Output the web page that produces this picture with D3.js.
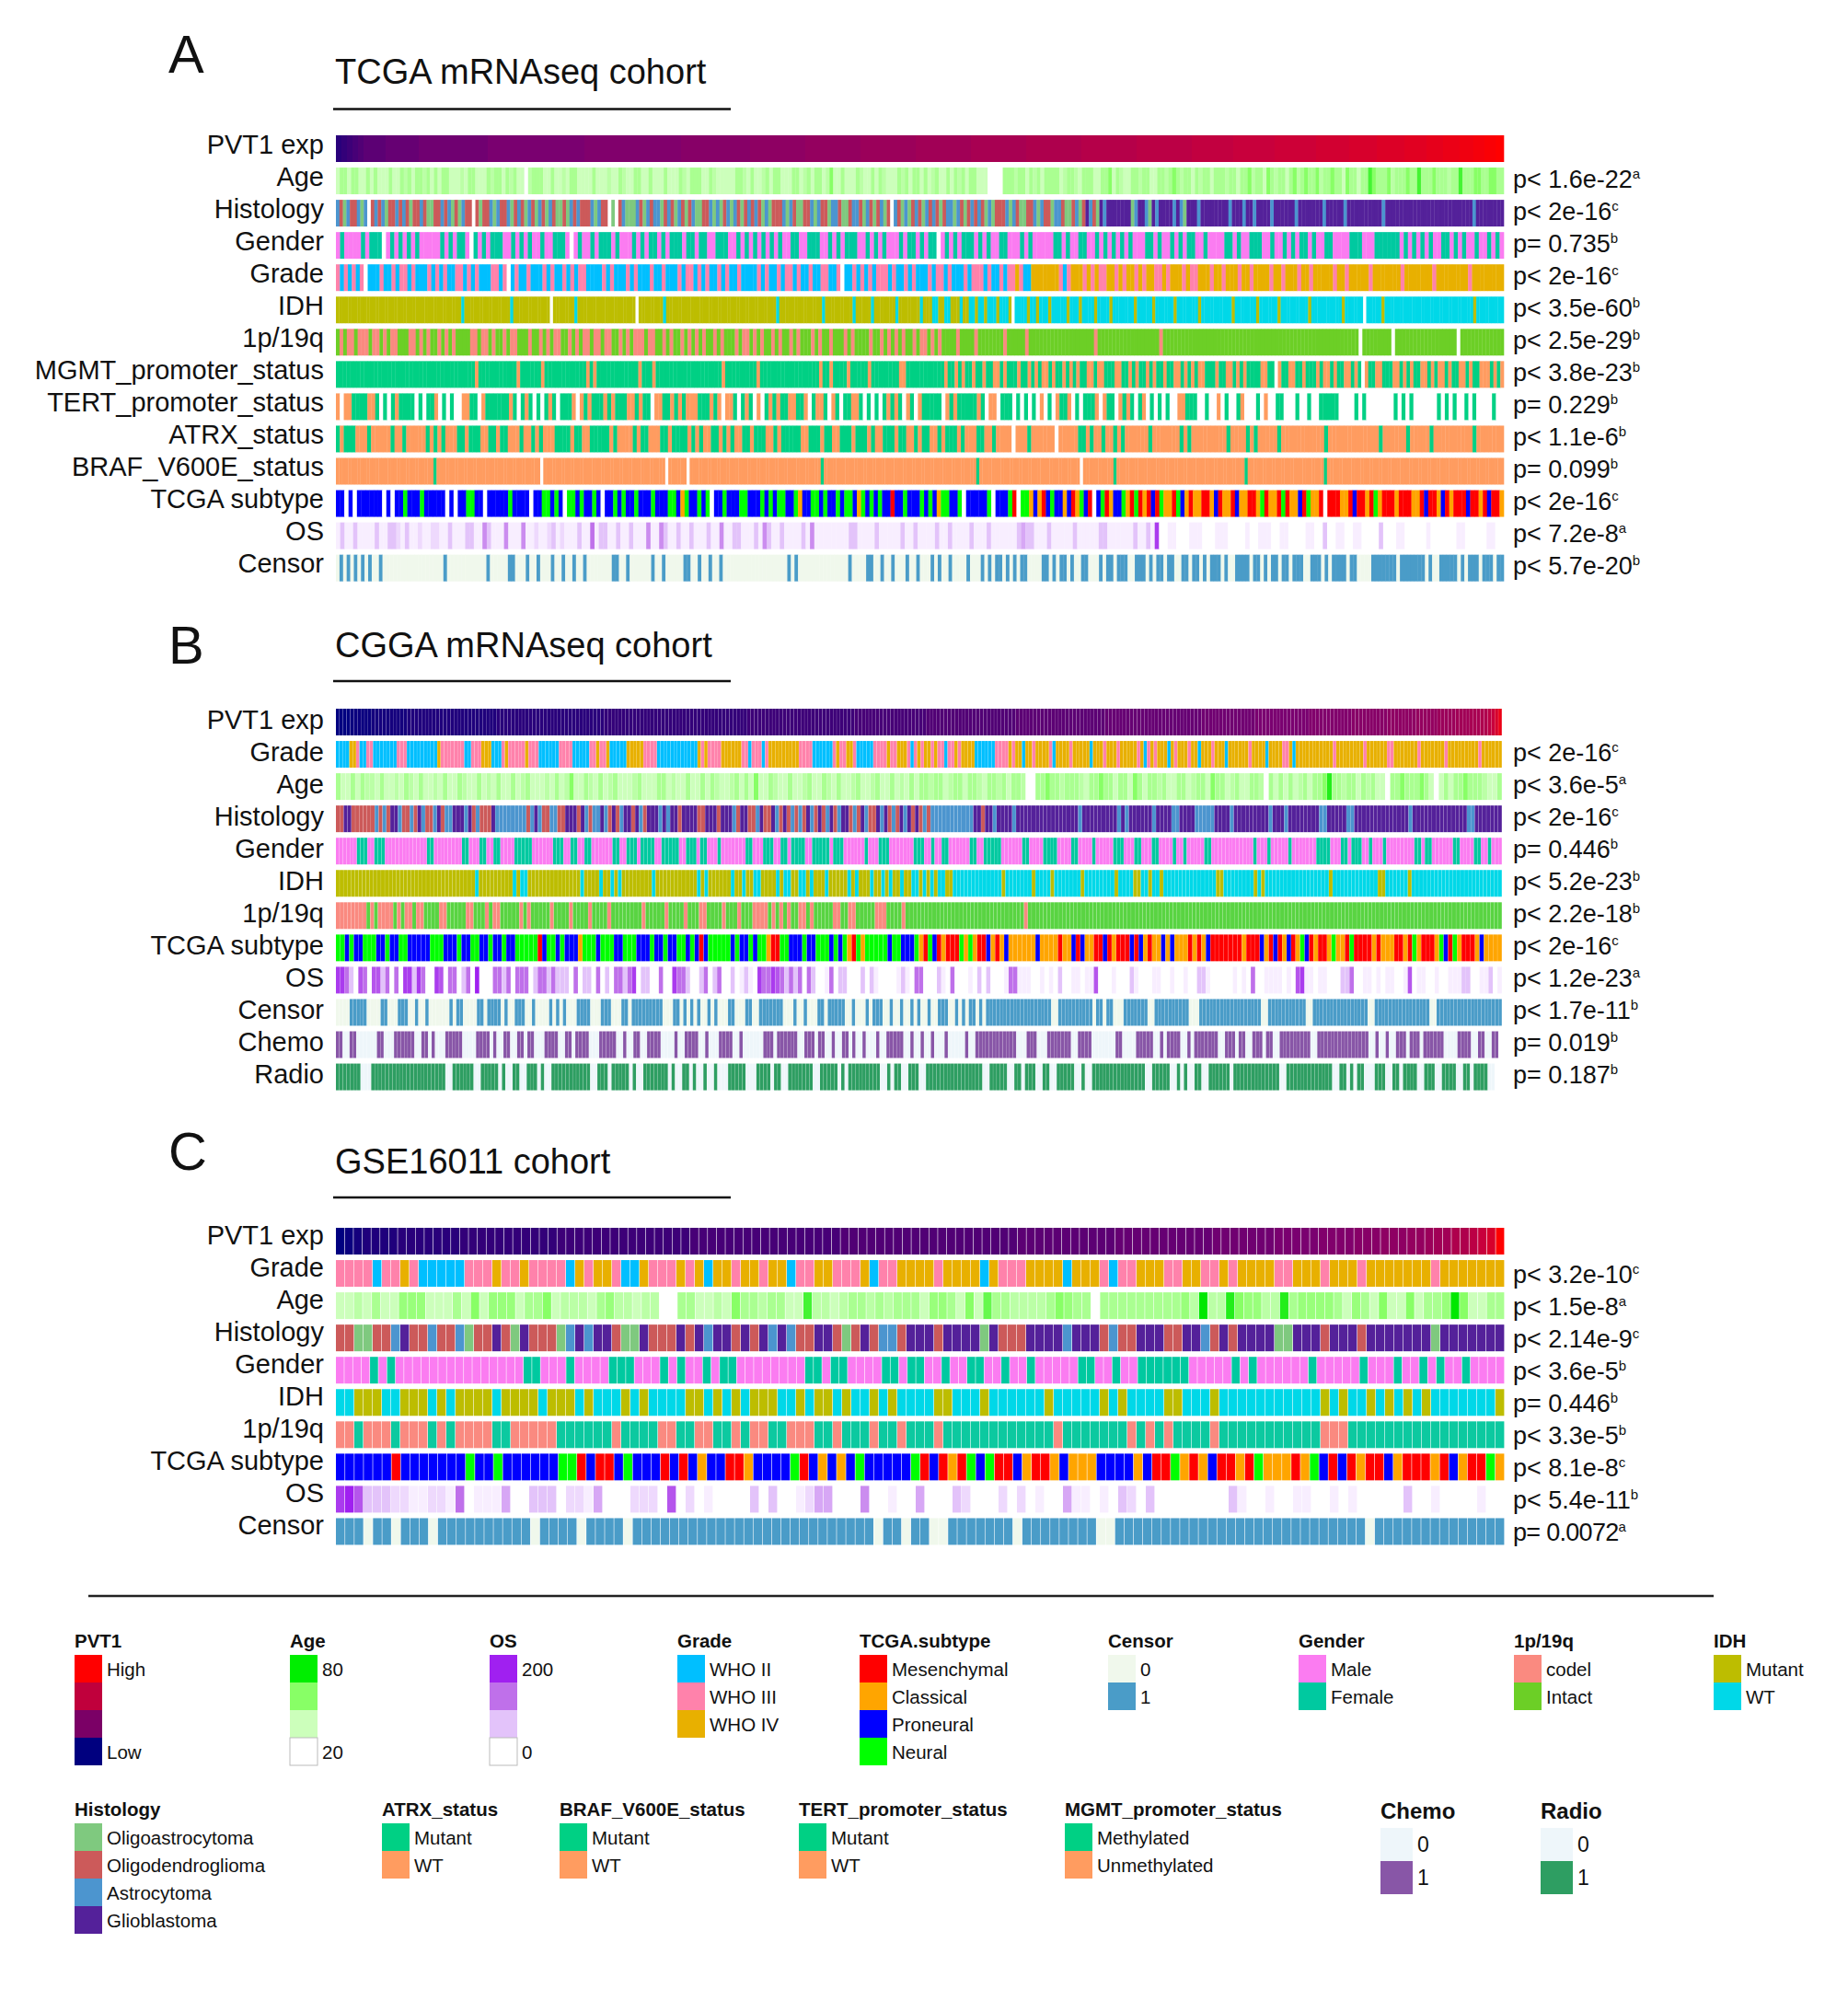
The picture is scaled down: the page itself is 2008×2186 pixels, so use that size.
<!DOCTYPE html>
<html><head><meta charset="utf-8">
<script src="https://cdn.jsdelivr.net/npm/d3@7"></script>
<style>html,body{margin:0;background:#fff}svg{display:block}text{font-family:"Liberation Sans",Arial,sans-serif;fill:#111}</style>
</head><body><svg id="c" width="2008" height="2186"></svg>
<script>
// Cell values, one character per sample. Spaces only separate runs.
// PVT1: base-36 level. Age / OS: level 0-9. Others: category letter. "." = missing.
const aPvt1="44 55 66 77 88 99999999 aaaaaaaaaaaa bbbbbbbbbbbbbbbbbbbbbbbbb ccccccccccccccccccccccccccccccccccc ddddddddddddddddddddddddddddddddddd eeeeeeeeeeeeeeeeeeeeeeeee ffffffffffffffffffff gggggggggggggggggggg hhhhhhhhhhhhhhhhhhhh iiiiiiiiiiiiiiiiiiii jjjjjjjjjjjjjjjjjjjj kkkkkkkkkkkkkkkkkkkk llllllllllllllllllll mmmmmmmmmmmmmmmmmmmm nnnnnnnnnnnnnnn ooooooooooooooo ppppppppppppppp qqqqqqqqqqqq rrrrrrrrrr ssssssssss tttttttt uuuuuu vvvvvv wwwww xxxx yyyy zzz";
const aAge="1 33 1 33 11 3 1 3 111 3 11 3 2 3 1 33 2 3 1 3 1 33 1 11 2 1 33 1 11 3 2 33 1 3 2 3 11 0 2 33 3 11 3 11 2 1 33 1 111 3 111 2 11 3 2 1 1 33 11 3 111 3 11 1 3 2 1 33 3 11 3 2 111 1 1 33 2 1 3 11 2 3 1 33 11 1 33 1 "+
"2 3 1 3 3 1 2 5 1 1 3 1 11 3 2 1 1 3 1 3 2 111 3 2 3 1 33 1 3 1 2 3 11 3 1 3 2 3 1 3 3 1 11 000 0 3 33 2 33 1 3 2 3 1 3 33 3 1 2 3 3 2 1 33 3 11 33 5 1 3 2 11 3 3 2 3 3 1 1 3 3 2 3 5 3 2 3 3 1 3 2 3 3 1 3 33 2 3 3 1 33 5 2 3 3 1 5 3 2 3 3 1 3 5 2 3 5 3 3 5 2 3 3 5 3 3 1 5 3 3 1 3 3 7 5 3 3 3 5 2 3 3 3 5 3 3 7 3 3 3 5 3 3 3 2 3 3 7 3 3 3 5 5 3 3 5 5 3 3";
const aHist="ADOA DDA OA . DA DAODD AD ADO DD ADOO DDA DAOD OADD . D O DD AO A DDA O DAD OA DOA D OADOO DOA D A DDD A O A DD . O . D A O OO AD OA DA A OD A DO ADO DA OO DD AO A OD A "+
"OAD OD A DA DO AOD DD AO AD OO DD A O AD DO A AD OO DAA DO AD OD A OD . AD OA O DA D OA D AD O DAA O AD OD A DA DO AOD DD AO AD OO DD A O AD DO A AD OO DA OD G AD OG A GGGGGGG O A GG A O G A G GGG A G A O GGG A GGGGGGGG A GGG A GG A GGGG A GGG GGG A GGGG GGG A GGGGG A GGGG GGGG GG A GGG GGGGGG GGGGGGG GGGGGGGGG A GGGGGGGG";
const aGender="M FM MMM F M F FF . MFM FM F MF M MMMM F MF MF FM . F MF M F FF M MFM FM F MM FM MF FF M . MF M MFM F FF MF M MM F MF M FF MF M F FF M FF MF FM M FFF M MF MF MF M "+
"FM F MF MM F FM MF F FM MF MF MF F F MM F M FM FM MM F MF FM F M FF . MFM FM F FF M FM FM MF F MM MF M FM M MMM FF M F M MFF MM F MFM F M FMF MMM FF MF MM FM F M FF MM FM MMM FF M FM MF FF M MF MM F MFM FF MF M MF FM MMM F FF MMM FFFFFF MF MFM FM F M MF FM F MF MM FM MFM FM";
const aGrade="3 2 3 2 32 3 . 222 3 22 3 2 33 2 3 222 3 2 3 2 3 22 33 2 3 2 3 222 33 2 3 . 2 3 22 3 222 3 2 3 22 3 2 3 2 33 222 2 3 2 3 222 3 2 3 222 3 22 3 2 22 3 2 33 2 3 2 "+
"3 22 3 2 3 22 3 2 222 3 2 3 22 3 2 33 2 3 2 2 3 22 3 3 22 3 . 22 3 2 3 2 3 2 33 3 2 3 22 3 2 3 222 3 2 33 2 3 2 22 3 2 3 33 2 3 22 3 2 33 4 3 2 2 4444444 3 2 3 444 3 4 3 4 33 44 3 4 3 44 3 4 3 44 33 4 3 444 3 4 33 444 3 44 3 444 3 44 3 4444 3 44 3 444 3 44 3 44444 3 44 3 44444 3 4444444 3 4444444 3 44444444 3 44444444";
const aIdh="MMMMMMMMMMMMMMMMMMMMMMMMMMMMMMMMMMMMMMMMM W MMMMMMMMMMMMMMM W MMMMMMMMMMMM . MMMMMMM W MMMMMMMMMMMMMMMMMMM . MMMMMMMM W MMMMMMMMMMMMMMMMMMMMMMMMMM "+
"MMMMMMMMMM W MMMMMMMMMMMMMM W MMMMMMMMM W MMMMM W MMMMMMM WM MMMMMM W MMM WW MM WW MMM W MM WW M WW M WWW M WWW M . WWWW M WW M WWW M WWWWW M WWW M WWWW M WWWW M WWWWWWW M WWWWW M WWWWWW M WWWWWWW M WWWWWWWWWW M WWWWWWW M WWWWWW M WWWWWWWWW M WWWWWWWWWW M WWWWWW . WWWWW M WWWWWWWWWWWWWWWWWWWWWWWWWWWWW M WWWWWWWWW";
const aCod="ic i cc i ccc i cc ic i cc iii cc i ci c ii ci c i c iiii cc i cc i c ii c i cc iii c ii c ic i cc ii c i ci cc i cc i cc ii ci c i ccc i cc ii c i c ii c i "+
"c i ci c ii c i c iii c i cc i ci c ii c i c ii ci c iii c i c ii c iii c i ci iii c ii c i c i ci c ii c i cc i c i ci iii c iiii c iii iiii c iiiii c iiiiiii iiiiiiiiiii c iiiiiiiiiiiiiiiii c iiiiiiiiiiiiiiiiiiiiiiiiiiiiiiii iiiiiiiiiiiiiiiiiiiiii . iiiiiiii . iiiiiiiiiiiiiiiii . iiiiiiiiiiii";
const aMgmt="MMMMMMMMMMMMMMMMMMMMMMMMMMMMMMMMMMMMMMMM U MMMMMMMMMMM U MMMMMM U MMMMMMMMMMMM U M U MMMMMMMMMMMM U MMM U MMMMMMMMMMMMMMMMMMM U MMMMMMMMM U MMMMMMMMMMMMMMM "+
"MM U MM U MMMM U MMMMM U MMMMMMMM UU MMMMMMMMMMM U MM U M U MM U MM U MM UU M U MMM U MM U M U M UU M U MM U M U M U MM UU M UU MMM UU MM U M U MM U M U MM U MM UU M U M U M UU MMM U MM UU M U M U MMMM UU MM . U MM UU MM U MMM U M UU M U MM UU M U M . U MM UU MMM UU M U M U MM UU M U M UU M U MM UU M U MM UUU M U M U";
const aTert="U.UU MMMM UU M.M.M U MMM M.M.MM U . M. M. . UU MM . U MMMMMM U M.MU M.M.MUM . MMM U . UMU MMM U MU M MM U UM U MM . UU MM U M UM U UU MM MU M "+
"U.U UM.M UM.U. MU MU MM UU MM U . M UU M.UM.MM UU M.M.M . MU MU M.U M.U MMMMM . U MU MMMMM U M.UU. MMM . M.M.M.U . M.UMM U.M.M MMU.UM M.U MU M.MU .M.M.M.. UU MMM .. M .. U. M .. MU ... M . U.. MM ... M.. M.. MMMM M.... M.M.. ..... M.M . M .... ..M.M.M .. M.M .... M..";
const aAtrx="MWM MM WWW M WWWWW M WW M WWWWW MW MW M WWW MM W MMM WW MM W MM WWW M WW MW M WWW MMM M WM M WW MMMM MW M WWWW MW MM WWW MM W MMMM W MW M WW MM W M "+
"W M WW MM W MMM WW M W MM MMM WW MMM W MM WW MMM W MMM W M WW MMM W MM WW M W MM WW M W MMM W M WWW MM WW M WWWW . WWW M WWWWWW . WWWWW MM W M WW M WW MWM WWWWWW M WWWWWWW M W M W WWWWWWWW M WWWW M W M WWWWW M WWWWWWWWWWW M WWWWWWWWWWWWW M WWWWWW M WWWWW M WWWWWWWWWW M WWWWWWW";
const aBraf="WWWWWWWWWWWWWWWWWWWWWWWWWWWWWWWW M WWWWWWWWWWWWWWWWWWWWWWWWWWWWWWWWWW . WWWWWWWWWWWWWWWWWWWWWWWWWWWWWWWWWWWWWWWW . WWWWWW . WWWWWWWWWWWWWWWWWWWWWWWWWWW "+
"WWWWWWWWWWWWWWWW M WWWWWWWWWWWWWWWWWWWWWWWWWWWWWWWWWWWWWWWWWWWWWWWWWW M WWWWWWWWWWWWWWWWWWWWWWWWWWWWWWWWW . WWWWWWWWWW M WWWWWWWWWWWWWWWWWWWWWWWWWWWWWWWWWWWWWWWWWW M WWWWWWWWWWWWWWWWWWWWWWWWW M WWWWWWWWWWWWWWWWWWWWWWWWWWWWWWWWWWWWWWWWWWWWWWWWWWWWWWWWWW";
const aSub="PP . P . PPPPPP . P . PP N PPP N PPPPP . P . PP NN PP . PPPPP N PPPP . PP NN P N P . N G P N PP N P . PP N P N PP N PPP N PPP NN P C N PP N P N . PP N PPP NN PPP N P "+
"N P NN PP N C PP NN P N PP N P NN P C N P N P N PP M PP N PPP N P N P C NN PP N . PPPPP N . PPP N M . NN C P C M P N PP C P M C N P M . P N M C PP N C M N M C M P M N CC M N P C M CC MM C P M CC M P CC MM C N M CC M N M CC P M N CC M . MMM CC M P MM C M N C M MM C MMM CC M P MM C P M C MMM P MM C M P MM C";
const aOs="1 3 1 1 3 1 1 1 1 3 1 1 3 3 2 1 3 1 1 2 1 1 2 2 1 1 3 1 1 1 3 3 1 1 5 3 1 1 1 5 1 1 1 5 1 1 2 1 1 2 3 1 2 1 1 1 3 1 1 6 1 3 3 1 1 3 1 1 3 1 1 1 5 1 1 5 3 1 1 3 1 1 3 1 1 1 3 1 1 5 1 1 3 3 1 1 1 3 1 5 3 1 1 3 1 1 1 1 3 1 5 1 1 "+
"1 1 1 1 1 1 3 3 1 1 1 1 3 1 1 1 1 1 3 1 1 3 1 1 1 1 3 1 1 3 1 1 1 1 3 1 1 1 3 1 1 1 1 1 1 3 4 3 3 1 1 1 3 1 1 1 1 1 3 1 1 1 1 1 3 3 1 1 1 1 1 1 3 1 1 3 1 8 0 0 1 1 0 0 0 1 1 1 0 0 0 1 1 1 0 0 0 0 1 0 0 1 1 1 0 0 1 1 0 0 0 0 1 1 0 0 3 0 0 1 1 0 0 1 1 0 0 0 0 3 0 0 0 1 1 0 0 0 0 0 1 0 0 0 0 0 0 1 1 0 0 0 0 0 1 1 0 0";
const aCen="0 1 0 1 0 1 0 1 0 1 00 1 00000000000000000 1 00000000000 1 00000 11 000 1 00 1 000 1 00 1 00 1 00 1 0000000 11 00 1 000000 1 00 1 00000 11 00 1 00 1 00 1 0 "+
"00000000000000000 1 0 1 00000000000000 1 0000 1 1 00 1 00 1 000 1 00 1 000 1 0 1 00 1 0000 1 000 1 0 1 0 1 1 0 1 0 1 0 11 0000 1 1 0 1 0 11 0 1 00 11 000 1 0 1 1 0 1 11 00 111 0 1 0 11 0 11 00 11 0 1 1 0 1 0 111 0 1 00 1111 0 11 0 1 0 1 1 0 1 1 0 111 00 111 0 1 0 1 1 1 1 0 11 0000 1 1 111 11 0 111 1111 0 1 00 11111 0 1 0 111 0 1 1 1 0 11";

const bPvt1="0000 111111 2222222222 3333333333333333333333333 444444444444444444444444444444 5555555555555555555555555555555555555555 666666666666666666666666666666 77777777777777777777 8888888888888888888888888 9999999999999999999999999 aaaaaaaaaaaaaaaaaaaaaaaaaaa bbbbbbbbbbbbbbb ccccccccccccccc dddddddddddd eeeeeeeeee ffffffff gggggg hhhhh iiii jjj kk m o r v";
const bGrade="2222 443 22 33 22 22222 333 222222222 43 333333 22 333 444 222 34 33 333 43 33 222222 3333 22222 3 3 43 34 22222 44444 3333 222222222222 4343 3334 44444 33 2 333 2 3 444 444444 3333 222222 34 3 34 43 "+
"22222 3333 43 34 44 3 2 34 3 44 3 4 3 3 2 33 4 3 44 "+
"44 222222 3333 4 3 44 2 44 3 4 444 3 2 4 444 3 4 4444 2 444 3 4 44 3 44444 3 4 2 3 4 3 444 2 4 3 444 3 44 2 444 3 44 4 2 44444 4 3 4444 2 4 444 33 4 2 444444 4 4444 3 4 4444 444 3 444444 33 4444444 3 4 444444 3 44 4 444444 3 4 44444";
const bAge="3 11 3 1 3 22 1 3 11 2 1 3 2 1 3 11 2 1 3 11 3 2 11 3 1 2 1 3 11 3 1 2 3 11 1 2 1 3 1 2 5 11 3 2 1 3 1 2 3 1 11 2 3 11 1 3 3 1 2 11 3 1 1 3 1 3 2 1 1 2 3 1 3 1 5 1 1 3 2 11 3 11 2 3 1 1 3 2 1 3 1 1 2 3 11 2 3 1 1 3 1 2 1 3 1 3 "+
"3 2 3 3 1 2 3 3 1 3 3 2 1 3 3 2 3 1 3 3 2 0 0 3 3 5 3 3 2 3 3 3 2 1 3 3 5 3 3 1 3 3 1 5 3 1 3 3 2 3 1 1 3 3 1 2 3 3 1 5 3 3 1 2 3 1 1 3 3 2 0 3 1 3 1 3 1 2 3 1 3 3 5 8 3 3 2 3 3 1 3 2 3 1 1 0 3 3 5 3 3 3 5 3 1 0 1 3 1 3 3 5 3 3 3 2 1 1 3";
const bHist="DDGGD DDDDD A D A D GG A DD A D G A DD A G D AA GGG A G D A DDD G A AAAAAAA D A G A D D AA DD GGG D G A D AA G AD G D A G G D G A D G GG A G A GG D G GGG DD GGG D GG G A D G G DD A GD D G A D "+
"G D A D A D G A D G D A G D A G GD A D G A D DG A G D A DG A G D G D A D AAAAAAAAAAA G G D G G A GG G G A G GGGGGGG G GGG G GGG A GGG GGGG GG A G A GGGGG G A GGGG A A GGGG A A A A A GGG G A GGGGGGG GG A GGG A GGGGGG G G AA GGGG G AA G GGGGGGGGGGGGG A GG GGGGGGGGGGGG A A GGGGGGG";
const bGender="MMMMMM FFF MM FFF MMMMMMMMMMMM FF MMMMMMMM FF MMM FF MM FF MMMM FFFFF MMMMMM FFF MM FF MM FF MMMMMM FF MM FFF M FFFF MM FFFFF MM FFF M FF MMM F MMMMMMM FF MMM FFF MM FF M FFFF MM FFFFF M FFF MMMMMM F MMM FFF MMMMMMM "+
"FFF MM F MM FF MMMMMM FF MM FFFFF MMMMMM FF MMMM FFFF MMMM FF MMMM F MMMMM FFF MMM FF MMM FF MMMM F MM F MMMMM FF MMMMMMMMMMMM F MMM F MMMMM F MMMMMMM FFFF MMM FF M FF F MM F MMM F MMMMMMMM FF M FF MMMMMM FF MMMM FF MM F MMM";
const bIdh="MMMMMMMMMMMMMMMMMMMMMMMMMMMMMMMMMMMMM W MMMMMMMMM W M WW MMMMMMMMMMMMMM W MMMM W MM W M W MMMMMMMM W MMMMMMMMMMM W M W MMMMMM W MM W MM WW MMMM W M WW MM WW M W MMM W MMMM "+
"M W M W MMM W MM W M W MM W MM WW M W M W M WW MM WWWWWWWWWWWWW M W W WWWWW M WWWW M W WWWWWW M WWWW W WWW M WWWW MM WW MWW MWWWWWWWWWWW WWW MM WWWWWWWW M W M WWWWWWWWWWWWWWWWW M WWWWWWWWWWWW M M WWWWWW M W WWWWW WWWWWWWWWWWWWWWWWW";
const bCod="cccccccc i c i cccc i c i cc i cc iiii cc iiiii cc iii c i cc iiiii c i c iiiii c iiii c iiii c iiii c iiiiiiii c iiiii c iiii c iii cc iiii c iii c iii c ccc i c "+
"i c i c ii cc i c i iiii cc ii c c iiiii cc c iiii c iiiiiiii iiiiiiiiiiiiiiiiiiiiiii c iiiiiiiiiiiiiiiiiiiiiiiiiiiiiiiiiiiiiiiiiiiiiiiiiiiiiiiiiiiiiiiiiiiiiiiiiiiiiiiiiiiiiiiiiiiiiiiiiiiiiiiiiiiiiiiiiiiiiiiiiiii";
const bSub="NN P N PP N NN PP N PP NN PPPPP NNN PPP N PP NN PP N PP N PP NNNNN M P NN P N PPP C N NN P N NN PP NNN PPP N PP N PP NN P N P M P NNNNN P N PP N P NN C MM NN PPP N PP NNN P N P N C M N C NNNNN P NN P PP N "+
"C M N P M C M MM N C N C MM P C M C P C CCCCC P CCCC M CC P M P CC MM P M C M MM P M P C M CC P C P CC C M C M C P MM MMMMM C M MM P C M P M C P M C N P M C MM C N C C M N MMMM C M CCC MM C M N C MMM C N P M N C MMM C P C CCC";
const bOs="88 6 3 0 7 6 0 7 7 3 6 0 6 0 8 8 3 8 6 0 0 8 7 0 6 6 0 3 6 0 9 0 0 0 6 6 3 6 0 6 6 6 0 3 6 6 3 6 3 3 3 0 6 0 3 3 0 6 0 3 0 6 6 3 6 8 0 3 3 0 0 6 0 0 8 6 6 3 0 0 3 6 0 3 6 0 0 3 0 1 3 1 0 8 6 6 8 7 6 3 6 3 "+
"6 0 6 3 0 0 1 6 0 3 3 0 0 0 3 0 3 1 0 0 0 0 1 3 1 0 6 6 0 0 0 3 1 0 6 0 0 0 1 0 3 0 3 0 0 0 1 6 6 1 1 1 0 0 1 0 1 0 3 0 0 1 1 0 1 1 7 0 0 0 1 0 0 0 3 1 0 0 0 1 1 0 0 1 0 0 1 0 0 3 3 1 0 0 0 0 0 1 0 1 0 6 0 0 1 1 1 1 0 1 0 7 8 1 1 0 1 1 0 0 0 3 3 6 0 0 1 1 0 1 0 1 1 0 0 1 7 0 1 1 0 0 1 0 0 1 1 1 3 3 0 0 1 1 3 0 1";
const bCen="0000 11111 0000 11 000 111 00 1 00 1 000000 1 0 11 0000 1 1 0 1111 0 1 00 1 1 1 00 1 0000 1 0 1 0 1 000 1111 000 111 000 11 0 11111 1 1 11 000 1 1 0 1 0 1 0 1 00 1 0 1 000 11 000 11 00 1111 11 1 000 1 00 1 000 11 0 "+
"11111 00 1 000 1 0 111 00 1 00 1 00 1 0 1 00 1 00 111 00 1 0 1 0 11 0 1 0 1 111111111111111111 00 1111111111 0 11 0 11 000 1111111 00 1111111111 000 111111111111111111 00 11111111111 00 1111111111111111 00 1111111111111111 00 1111111111111111111";
const bChemo="11 00 11 000000 11 000 111111 00 11 0 1 000 11111 0000 1 11 1 0 1 00 11 00 1 1 0 11 000 111 1 00 11 0 1111 000 1111 1 00 1 00 11 00 1 1 11 0000 1 00 111 1 00 1 000 1111 00 1 000000 111 0 111111 00 111 0 11 00 1 00 "+
"1 1 0 1 00 1 000 1 00 11111 00 1 00 1 00 1 000 1 00000 1 00 111111111111 000 111 000 1111111 00 1111 0000000 11 0000 11111 00 1 0 1 1 1 1 00 1 0 1111111 00 111 0 11 00 111 0 11 00 111111111 00 111111111111111 00 1 00 1 00 111 0 111 0 111111 0000 1 111 00 11 00 11 .";
const bRadio="1111111 000 111111111111111111111 00 111111 00 11111 0 1 00 11 00 111 0 1 00 11111 1 11111 00 111 0 11111 0 1 00 1111111 0 1 00 11 0 1 00 1 00 1 000 11111 000 1111 0 11 00 1111111 00 11111 0 1 0 11 1 111111 00 1 0 11 00 "+
"1 1 1 00 1111111111111111 00 11111 00 11 0 111 00 11 00 11111 00 1 00 111111111111111 00 11111 00 1 0 1 00 11 00 111111 0 1111111111111 00 1111111111111 00 1 1 0 1 0 11 000 111 00 11 0 1111 00 111 00 1111 00 11 0 1111 00 ..";

const cPvt1="0 1 2 3 3 3 3 4 4 4 4 4 4 4 5 5 5 5 5 5 5 5 5 5 5 6 6 6 6 6 6 6 6 6 6 6 6 6 6 6 7 7 7 7 7 7 7 7 7 7 7 7 7 7 7 7 7 8 8 8 8 8 8 8 8 8 8 8 8 8 8 8 8 8 8 8 8 9 9 9 9 9 9 9 9 9 9 9 a a a a a a a a a a a b b b b b b b c c c c c d d d d e e e f f f g g h i i k k m o r z";
const cGrade="3333 2 33 4 3 22222 333 4 33 4 3333 2 4 3 44 3 22 4 333 4 3 4 2 44 3 44 3 44 2 33 44 333 4 2 3344 44 3 4444 2 4 333 4444 2 444 3 2 33 444 33 44 33 4 3 4444 33 444 3 444 3 4444444 3 4444444";
const cAge="11 2 1 3 11 444 111 3 1 5 1 444 1 33 5 1 222 1 3 4 22122 00 33 11 2 1 5 33233 11 7 2212332323 33 1 443 1 5 1 6 33 22 223 5 433 0 33333333 3 4 2 9 22 8 544 22 8 344 443 1 43 1 5 11 5 1 33 4 9 5 11 33";
const cHist="DD OO DD A G DD A DD A O DD G D O G DDD O A G A GG D O O G DDD G D G A GG D G D G A G A DD GG D O D G D AA D GG G D GGGG O G DDD GGGG A GGG D A DD GGG DD GG A D G D GGGG OO GGG D GGG D GGGGGGG O GGGGGGG";
const cGender="MMMM F M F MMMMMMMMMMMMMMM FF MMM F MMMM FFF MMM F M F MM F M FF MMMMMMMM FF M FF MMMM F F M FF MM F MM FF MM F MM F MMMMM FF MM F MM FFFFFF MMMMM F M F MMMMMM F MMMMM F MMM F MM F M F MM F MMMM";
const cIdh="WW MMM WW MMM W M W MMMM W MMMM W MMM W M WWW M W M WW WW MM W M W M W MMM WW M W MM W M WW M W M WW WW MM WWW M WWWWWW M WWWWW M W M WWWW MM WWW M WWWWWWWWWWW M W M WW M W M W M W M WWWWWWW M";
const cCod="cc i ccc i ccc i c i cccc ii ccccc iiiiii c iiii cc ii cc ii c i cc ii ccc ii c iii c ii c ii i c iiiiiiiiiiii c iiiiiii c i c i c iiii c iiiiiiiiiii ccc iiiiiiiiiiiiiiiii";
const cSub="PPPPPP M PPPPPPP N PP N PPPPPP NN M P MM P N PPP M P M P C PP MM C PPP P N M P C P C P N PPPPP N M P M C M N P N MM P C MM C P CCC PPPP C P MM N C M C P MM C M N CCC M C N P M P M C MM P C MMM C M P C MM N C";
const cOs="8 9 7 3 3 3 2 2 1 1 2 2 1 6 0 1 1 1 4 0 0 3 3 3 0 2 2 1 4 0 0 0 2 2 2 0 7 0 2 0 1 0 0 0 0 3 0 3 0 0 1 2 4 4 0 0 0 5 0 0 1 0 0 4 0 0 0 3 2 0 0 0 2 0 2 0 1 0 0 4 1 1 0 1 0 3 2 0 3 0 0 0 0 0 0 0 0 3 1 0 0 1 0 0 1 1 0 0 1 0 1 0 0 0 0 0 3 0 0 1 0 0 0 0 1 0 0";
const cCen="111 0 11 0 111 0 1111111111 0 1111 0 1111 0 11111111111111111111111111 0 11 0 1 1 00 1111111 0 11111111 00 111111111111111111111111111 0 11111111111111";

const panelLetters=["A","B","C"];
const panelTitles=["TCGA mRNAseq cohort","CGGA mRNAseq cohort","GSE16011 cohort"];

const colPvt1=["#000080","#7a0070","#c8003c","#ff0000"];
const colAge=["#ffffff","#ccffbb","#88ff66","#00e800"];
const colOs=["#ffffff","#f8eeff","#e3c3fa","#bf70ea","#a020f0"];
const keysGrade=["2","3","4"], colGrade=["#00bfff","#ff82ab","#e8b000"];
const keysSub=["M","C","P","N"], colSub=["#ff0000","#ffa500","#0000ff","#00ff00"];
const keysHist=["O","D","A","G"], colHist=["#7fc97f","#cc5a5a","#4c95cf","#54219a"];
const keysGender=["M","F"], colGender=["#fb7cf1","#00c9a0"];
const keysMut=["M","W"], keysMeth=["M","U"], colMut=["#00d084","#ff9c60"];
const keysIdh=["M","W"], colIdh=["#bdbd00","#00d8e8"];
const keysBin=["0","1"], colCen=["#f0f8ec","#4a9cc8"], colChemo=["#eef6fa","#8856a7"], colRadio=["#eef6fa","#2e9e62"];
const keysCod=["c","i"], colCodA=["#fa8a80","#6ccf26"], colCodB=["#fa8a80","#59d442"], colCodC=["#fa8a80","#0cc9a0"];

const linPvt1=d3.scaleLinear().domain([0,12,24,35]).range(colPvt1);
const linAge=d3.scaleLinear().domain([0,1,5,9]).range(colAge);
const linOs=d3.scaleLinear().domain([0,1,3,6,9]).range(colOs);
const ord=(k,c)=>{const s=d3.scaleOrdinal(k,c);return d=>d==="."?"#ffffff":s(d)};
const fPvt=d=>linPvt1(parseInt(d,36)), fAge=d=>linAge(+d), fOs=d=>linOs(+d);
const fGrade=ord(keysGrade,colGrade),fSub=ord(keysSub,colSub),fHist=ord(keysHist,colHist),fGender=ord(keysGender,colGender),fMut=ord(keysMut,colMut),fMeth=ord(keysMeth,colMut),fIdh=ord(keysIdh,colIdh),fCen=ord(keysBin,colCen),fChemo=ord(keysBin,colChemo),fRadio=ord(keysBin,colRadio);

const panels=[
{top:147,left:365,right:1634,gap:0,labelDy:-4,pDy:-3,letter:[183,79],title:[364,91],rule:[362,794,118.5],rows:[
 ["PVT1 exp",aPvt1,fPvt,""],
 ["Age",aAge,fAge,"p< 1.6e-22|a"],
 ["Histology",aHist,fHist,"p< 2e-16|c"],
 ["Gender",aGender,fGender,"p= 0.735|b"],
 ["Grade",aGrade,fGrade,"p< 2e-16|c"],
 ["IDH",aIdh,fIdh,"p< 3.5e-60|b"],
 ["1p/19q",aCod,ord(keysCod,colCodA),"p< 2.5e-29|b"],
 ["MGMT_promoter_status",aMgmt,fMeth,"p< 3.8e-23|b"],
 ["TERT_promoter_status",aTert,fMeth,"p= 0.229|b"],
 ["ATRX_status",aAtrx,fMut,"p< 1.1e-6|b"],
 ["BRAF_V600E_status",aBraf,fMut,"p= 0.099|b"],
 ["TCGA subtype",aSub,d=>d==="G"?"#00ff00":fSub(d),"p< 2e-16|c"],
 ["OS",aOs,fOs,"p< 7.2e-8|a"],
 ["Censor",aCen,fCen,"p< 5.7e-20|b"]]},
{top:770,left:365,right:1632,gap:.2,labelDy:-2,pDy:-3,letter:[183,721],title:[364,714],rule:[362,794,740],rows:[
 ["PVT1 exp",bPvt1,fPvt,""],
 ["Grade",bGrade,fGrade,"p< 2e-16|c"],
 ["Age",bAge,fAge,"p< 3.6e-5|a"],
 ["Histology",bHist,fHist,"p< 2e-16|c"],
 ["Gender",bGender,fGender,"p= 0.446|b"],
 ["IDH",bIdh,fIdh,"p< 5.2e-23|b"],
 ["1p/19q",bCod,ord(keysCod,colCodB),"p< 2.2e-18|b"],
 ["TCGA subtype",bSub,fSub,"p< 2e-16|c"],
 ["OS",bOs,fOs,"p< 1.2e-23|a"],
 ["Censor",bCen,fCen,"p< 1.7e-11|b"],
 ["Chemo",bChemo,fChemo,"p= 0.019|b"],
 ["Radio",bRadio,fRadio,"p= 0.187|b"]]},
{top:1334,left:365,right:1635,gap:.6,labelDy:-6,pDy:0,letter:[183,1271],title:[364,1275],rule:[362,794,1301],rows:[
 ["PVT1 exp",cPvt1,fPvt,""],
 ["Grade",cGrade,fGrade,"p< 3.2e-10|c"],
 ["Age",cAge,fAge,"p< 1.5e-8|a"],
 ["Histology",cHist,fHist,"p< 2.14e-9|c"],
 ["Gender",cGender,fGender,"p< 3.6e-5|b"],
 ["IDH",cIdh,fIdh,"p= 0.446|b"],
 ["1p/19q",cCod,ord(keysCod,colCodC),"p< 3.3e-5|b"],
 ["TCGA subtype",cSub,fSub,"p< 8.1e-8|c"],
 ["OS",cOs,fOs,"p< 5.4e-11|b"],
 ["Censor",cCen,fCen,"p= 0.0072|a"]]}
];

const svg=d3.select("#c");
const rowPitch=35.05,rowH=29;
panels.forEach((p,pi)=>{
  const g=svg.append("g");
  g.append("text").attr("x",p.letter[0]).attr("y",p.letter[1]).attr("font-size",58).text(panelLetters[pi]);
  g.append("text").attr("x",p.title[0]).attr("y",p.title[1]).attr("font-size",38).text(panelTitles[pi]);
  g.append("line").attr("x1",p.rule[0]).attr("x2",p.rule[1]).attr("y1",p.rule[2]).attr("y2",p.rule[2]).attr("stroke","#111").attr("stroke-width",2.5);
  const names=p.rows.map((r,i)=>i+"|"+r[0]);
  const y=d3.scaleBand().domain(names).range([p.top,p.top+rowPitch*names.length-(rowPitch-rowH)]).paddingInner(1-rowH/rowPitch).paddingOuter(0);
  p.rows.forEach((r,i)=>{
    const cells=r[1].replace(/\s/g,"").split("");
    const x=d3.scaleBand().domain(d3.range(cells.length)).range([p.left,p.right]);
    g.append("g").selectAll("rect").data(cells).join("rect")
      .attr("x",(d,j)=>x(j)).attr("y",y(names[i]))
      .attr("width",Math.max(x.bandwidth()-p.gap,.5)+(p.gap?0:.3)).attr("height",y.bandwidth())
      .attr("fill",r[2]);
    if(r[3]){
      const [tx,sup]=r[3].split("|");
      const t=g.append("text").attr("x",1644).attr("y",y(names[i])+y.bandwidth()/2+10+p.pDy).attr("font-size",27);
      const main=t.append("tspan").text(tx);
      if(tx==="p= 0.0072") main.attr("letter-spacing",-0.7);
      t.append("tspan").attr("font-size",15).attr("dy",-10).text(sup);
    }
  });
  const ax=d3.axisLeft(y).tickSize(0).tickPadding(13).tickFormat(d=>d.split("|")[1]);
  const ag=g.append("g").attr("transform",`translate(${p.left},${p.labelDy})`).call(ax);
  ag.select(".domain").remove();
  ag.selectAll("text").attr("font-size",29).attr("font-family",'"Liberation Sans",Arial,sans-serif').attr("fill","#111");
});

svg.append("line").attr("x1",96).attr("x2",1862).attr("y1",1734).attr("y2",1734).attr("stroke","#222").attr("stroke-width",2.5);

const legends=[
 {t:"PVT1",x:81,y:1798,c:["#ff0000","#c0003c","#7b0066","#00007f"],l:["High","","","Low"]},
 {t:"Age",x:315,y:1798,c:["#00ee00","#88ff66","#ccffbb","#ffffff"],l:["80","","","20"],b:1},
 {t:"OS",x:532,y:1798,c:["#a020f0","#bf70ea","#e3c3fa","#ffffff"],l:["200","","","0"],b:1},
 {t:"Grade",x:736,y:1798,c:colGrade,l:["WHO II","WHO III","WHO IV"]},
 {t:"TCGA.subtype",x:934,y:1798,c:colSub,l:["Mesenchymal","Classical","Proneural","Neural"]},
 {t:"Censor",x:1204,y:1798,c:colCen,l:["0","1"]},
 {t:"Gender",x:1411,y:1798,c:colGender,l:["Male","Female"]},
 {t:"1p/19q",x:1645,y:1798,c:colCodA,l:["codel","Intact"]},
 {t:"IDH",x:1862,y:1798,c:colIdh,l:["Mutant","WT"]},
 {t:"Histology",x:81,y:1981,c:colHist,l:["Oligoastrocytoma","Oligodendroglioma","Astrocytoma","Glioblastoma"]},
 {t:"ATRX_status",x:415,y:1981,c:colMut,l:["Mutant","WT"]},
 {t:"BRAF_V600E_status",x:608,y:1981,c:colMut,l:["Mutant","WT"]},
 {t:"TERT_promoter_status",x:868,y:1981,c:colMut,l:["Mutant","WT"]},
 {t:"MGMT_promoter_status",x:1157,y:1981,c:colMut,l:["Methylated","Unmethylated"]},
 {t:"Chemo",x:1500,y:1986,c:colChemo,l:["0","1"],big:1},
 {t:"Radio",x:1674,y:1986,c:colRadio,l:["0","1"],big:1}
];
legends.forEach(L=>{
  const g=svg.append("g");
  const h=L.big?36:30, w=L.big?35:30;
  const y=d3.scaleBand().domain(d3.range(L.c.length)).range([L.y,L.y+h*L.c.length]);
  g.append("text").attr("x",L.x).attr("y",L.y-(L.big?10:8)).attr("font-weight","bold").attr("font-size",L.big?24:20.5).text(L.t);
  g.selectAll("rect").data(L.c).join("rect").attr("x",L.x).attr("y",(d,i)=>y(i)).attr("width",w).attr("height",h)
    .attr("fill",d=>d).attr("stroke",(d)=>(L.b&&d==="#ffffff")?"#bbb":"none").attr("stroke-width",1);
  g.selectAll("text.l").data(L.l.filter(d=>d)).join("text").attr("class","l").attr("x",L.x+w+5).attr("y",d=>y(L.l.indexOf(d))+h/2+7.5)
    .attr("font-size",L.big?23:20.5).text(d=>d);
});
</script></body></html>
